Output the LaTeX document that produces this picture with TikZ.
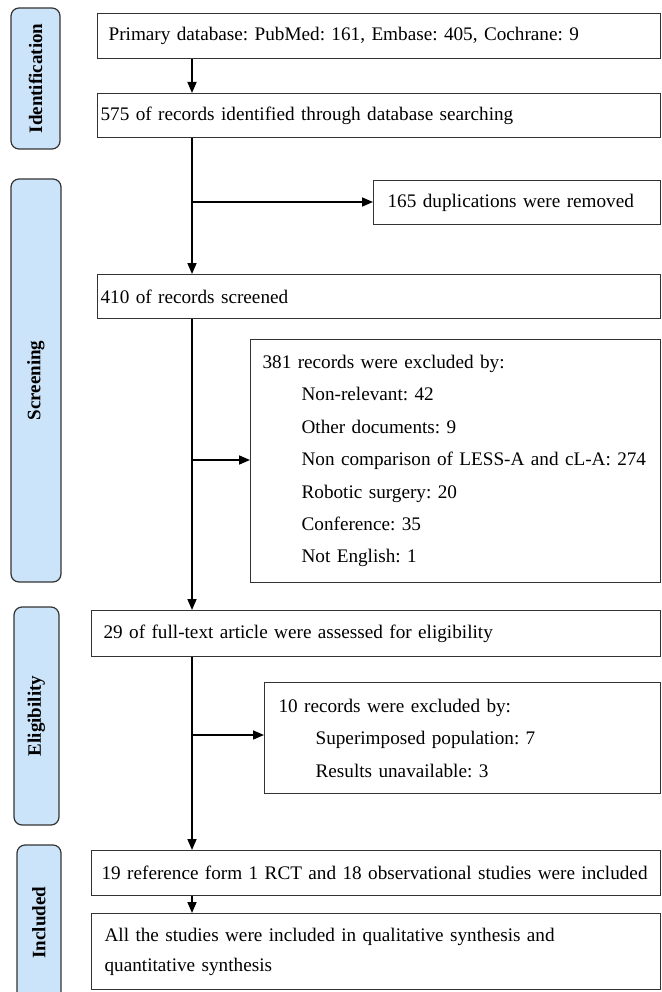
\documentclass[tikz,border=0pt]{standalone}
\usepackage{fontspec}
\setmainfont{Liberation Serif}
\usetikzlibrary{arrows.meta}
\definecolor{sideblue}{HTML}{CCE4F9}
\definecolor{edge}{HTML}{333333}
\frenchspacing
\hyphenpenalty=10000
\begin{document}
\begin{tikzpicture}[x=1pt,y=-1pt,
  box/.style={draw=edge, line width=1.2pt, anchor=north west, inner ysep=0pt, align=left,
    font=\fontsize{19.2}{32.4}\selectfont},
  side/.style={draw=edge, line width=1.2pt, fill=sideblue, rounded corners=8pt, rotate=90,
    font=\fontsize{19}{22}\selectfont\bfseries, inner sep=0pt},
  arr/.style={line width=1.6pt, draw=black, -{Triangle[length=11pt,width=9pt]}}]
\useasboundingbox (0,0) rectangle (661,992);

% side labels
\node[side, minimum width=141, minimum height=49] (sid) at (35.5,78.5) {Identification};
\node[side, minimum width=403, minimum height=50] (sscr) at (36,380.5) {Screening};
\node[side, minimum width=218, minimum height=45] (selg) at (36.5,716) {Eligibility};
\node[side, minimum width=155, minimum height=44] (sinc) at (39,922.5) {Included};

% boxes
\node[box, minimum width=563, minimum height=45, inner xsep=11, text width=541] (b1) at (97,13)
  {Primary database: PubMed: 161, Embase: 405, Cochrane: 9};
\node[box, minimum width=563, minimum height=44, inner xsep=3, text width=557] (b2) at (97,93)
  {575 of records identified through database searching};
\node[box, minimum width=287, minimum height=44, inner xsep=14, text width=259] (b3) at (373,180)
  {165 duplications were removed};
\node[box, minimum width=563, minimum height=44, inner xsep=3, text width=557] (b4) at (97,274)
  {410 of records screened};
\node[box, minimum width=410, minimum height=243, inner xsep=12, text width=386] (b5) at (250,339)
  {381 records were excluded by:\\
   \hspace*{39pt}Non-relevant: 42\\
   \hspace*{39pt}Other documents: 9\\
   \hspace*{39pt}Non comparison of LESS-A and cL-A: 274\\
   \hspace*{39pt}Robotic surgery: 20\\
   \hspace*{39pt}Conference: 35\\
   \hspace*{39pt}Not English: 1};
\node[box, minimum width=569, minimum height=46, inner xsep=12, text width=545] (b6) at (91,610)
  {29 of full-text article were assessed for eligibility};
\node[box, minimum width=396, minimum height=111, inner xsep=14, text width=368] (b7) at (264,682)
  {10 records were excluded by:\\
   \hspace*{37pt}Superimposed population: 7\\
   \hspace*{37pt}Results unavailable: 3};
\node[box, minimum width=569, minimum height=45, inner xsep=10, text width=549] (b8) at (91,850)
  {19 reference form 1 RCT and 18 observational studies were included};
\node[box, minimum width=569, minimum height=76, inner xsep=13, text width=543,
  font=\fontsize{19.2}{30}\selectfont] (b9) at (91,913)
  {All the studies were included in qualitative synthesis and\\quantitative synthesis};

% connectors
\coordinate (sp) at (192,0);
\coordinate (j1) at (192,202);
\coordinate (j2) at (192,460);
\coordinate (j3) at (192,735);
\draw[arr] (sp |- b1.south) -- (sp |- b2.north);
\draw[arr] (sp |- b2.south) -- (sp |- b4.north);
\draw[arr] (j1) -- (j1 -| b3.west);
\draw[arr] (sp |- b4.south) -- (sp |- b6.north);
\draw[arr] (j2) -- (j2 -| b5.west);
\draw[arr] (sp |- b6.south) -- (sp |- b8.north);
\draw[arr] (j3) -- (j3 -| b7.west);
\draw[arr] (sp |- b8.south) -- (sp |- b9.north);
\end{tikzpicture}
\end{document}
